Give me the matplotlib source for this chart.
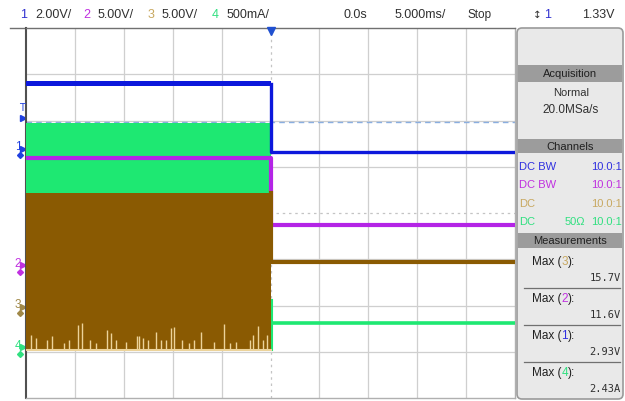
import matplotlib
matplotlib.use("Agg")
import matplotlib.pyplot as plt
from matplotlib.patches import FancyBboxPatch, Rectangle
import matplotlib.transforms as mtransforms

# ---------------- data (time in ms, amplitude in divisions) ----------------
t_range = (-25.0, 25.0)
y_range = (-4.0, 4.0)
t_edge = 0.0
ch1_levels = [2.79, 1.31]          # before / after the edge
ch1_band = [2.74, 2.85]
ch2_levels = [1.18, -0.27]
ch3_band = [-2.96, 0.44]
ch3_after = -1.06
ch4_band = [-2.96, 1.95]
ch4_after = -2.38
trig_level = 1.97
ground_marks = {"1": 1.39, "2": -1.13, "3": -2.03, "4": -2.90}
trig_mark = 2.06
spike_t = [-24.5, -24.0, -22.9, -22.3, -21.1, -20.6, -19.7, -19.3, -18.5, -17.8,
           -16.7, -16.3, -15.8, -14.8, -13.7, -13.4, -13.0, -12.5, -11.7, -11.2,
           -10.7, -10.2, -9.9, -9.1, -8.3, -7.8, -7.1, -5.8, -4.8, -4.1,
           -3.5, -2.1, -1.8, -1.3, -0.8, -0.4]
spike_top = [-2.64, -2.70, -2.75, -2.67, -2.81, -2.75, -2.42, -2.37, -2.75, -2.81,
             -2.53, -2.59, -2.75, -2.78, -2.67, -2.67, -2.70, -2.75, -2.57, -2.75,
             -2.75, -2.49, -2.46, -2.75, -2.81, -2.75, -2.57, -2.78, -2.40, -2.81,
             -2.78, -2.75, -2.64, -2.44, -2.75, -2.64]
spike_base = -2.96

header_items = [("1", "#3030d0"), ("2.00V/", "#303030"), ("2", "#c030e0"), ("5.00V/", "#303030"),
                ("3", "#c8a860"), ("5.00V/", "#303030"), ("4", "#30e080"), ("500mA/", "#303030")]
header_x = [20, 35, 83, 98, 148, 162, 212, 227]
channel_rows = [("DC BW", "", "10.0:1", "#3030e0"), ("DC BW", "", "10.0:1", "#c030e0"),
                ("DC", "", "10.0:1", "#c8a860"), ("DC", "50\u03a9", "10.0:1", "#30e080")]
meas_labels = ["3", "2", "1", "4"]
meas_values = ["15.7V", "11.6V", "2.93V", "2.43A"]
meas_colors = ["#c8a860", "#c030e0", "#3030e0", "#30e080"]

BLUE = "#0c18dc"
MAG = "#b424e6"
BROWN = "#8a5a02"
GREEN = "#1ee872"
BEIGE = "#ecd39a"
NARROW = ["Liberation Sans Narrow", "Liberation Sans", "DejaVu Sans"]
REG = ["Liberation Sans", "DejaVu Sans"]

W, H = 625, 401
fig = plt.figure(figsize=(W / 100, H / 100), dpi=100)
fig.patch.set_facecolor("white")

ov = fig.add_axes([0, 0, 1, 1], zorder=0)
ov.set_xlim(0, W)
ov.set_ylim(H, 0)
ov.axis("off")

gx0, gx1, gy0, gy1 = 26, 515, 28, 398
ax = fig.add_axes([gx0 / W, 1 - gy1 / H, (gx1 - gx0) / W, (gy1 - gy0) / H], zorder=2)
ax.set_xlim(*t_range)
ax.set_ylim(*y_range)
ax.set_xticks([])
ax.set_yticks([])
for s in ax.spines.values():
    s.set_color("#b0b0b0")
    s.set_linewidth(1.0)
ax.spines["left"].set_color("#505050")
ax.spines["left"].set_linewidth(1.5)
ax.spines["top"].set_color("#707070")

for xv in range(-20, 25, 5):
    if xv == 0:
        ax.axvline(xv, color="#c4c4c4", lw=0.9, ls=(0, (2, 3)), zorder=1)
    else:
        ax.axvline(xv, color="#cfcfcf", lw=0.9, zorder=1)
for yv in range(-3, 4):
    if yv == 0:
        ax.axhline(yv, color="#c4c4c4", lw=0.9, ls=(0, (2, 3)), zorder=1)
    else:
        ax.axhline(yv, color="#cfcfcf", lw=0.9, zorder=1)

ax.axhline(trig_level, color="#8aaee0", lw=1.0, ls=(0, (4, 3)), zorder=1.5)

# channel 4 (green)
ax.fill_between([t_range[0], t_edge], ch4_band[0], ch4_band[1], color=GREEN, lw=0, zorder=3)
ax.plot([t_edge + 0.15, t_edge + 0.15], [ch4_band[0], ch4_after + 0.5], color=GREEN, lw=1.5, zorder=3)
ax.plot([t_edge + 0.15, t_range[1]], [ch4_after, ch4_after], color=GREEN, lw=2.6, zorder=3)

# channel 2 (magenta)
ax.plot([t_range[0], t_edge, t_edge, t_range[1]],
        [ch2_levels[0], ch2_levels[0], ch2_levels[1], ch2_levels[1]], color=MAG, lw=3.0, zorder=4)

# channel 3 (brown)
ax.fill_between([t_range[0], t_edge], ch3_band[0], ch3_band[1], color=BROWN, lw=0, zorder=5)
ax.vlines(spike_t, spike_base, spike_top, color=BEIGE, lw=1.0, zorder=5.5)
ax.plot([t_range[0], t_edge], [spike_base, spike_base], color=BEIGE, lw=1.5, zorder=5.5)
ax.plot([t_edge, t_edge, t_range[1]], [ch3_band[1], ch3_after, ch3_after], color=BROWN, lw=3.0, zorder=5)

# channel 1 (blue)
ax.fill_between([t_range[0], t_edge], ch1_band[0], ch1_band[1], color=BLUE, lw=0, zorder=6)
ax.plot([t_edge, t_edge, t_range[1]], [ch1_levels[0], ch1_levels[1], ch1_levels[1]],
        color=BLUE, lw=2.4, zorder=6)

ax.plot([t_edge], [y_range[1] - 0.06], marker="v", color="#2050d0", ms=6, clip_on=False, zorder=8)

blend = mtransforms.blended_transform_factory(ov.transData, ax.transData)
gcol = {"1": "#2040e0", "2": "#c030e0", "3": "#a08848", "4": "#30e080"}
for k, yv in ground_marks.items():
    ax.text(18, yv + 0.03, k, transform=blend, color=gcol[k], fontsize=8.5, ha="center",
            va="center", clip_on=False, family=NARROW)
    ax.plot([23], [yv], marker=">", ms=4, color=gcol[k], transform=blend, clip_on=False)
    ax.plot([19.5], [yv - 0.14], marker="D", ms=3, color=gcol[k], transform=blend, clip_on=False)
ax.text(22, trig_mark + 0.2, "T", transform=blend, color="#2040e0", fontsize=7, ha="center",
        va="center", clip_on=False)
ax.plot([23], [trig_mark], marker=">", ms=4, color="#2040e0", transform=blend, clip_on=False)

# header
hf = dict(fontsize=9, va="center", family=NARROW)
for (txt, col), xx in zip(header_items, header_x):
    ov.text(xx, 15, txt, color=col, **hf)
ov.text(343, 15, "0.0s", color="#303030", **hf)
ov.text(395, 15, "5.000ms/", color="#303030", **hf)
ov.text(468, 15, "Stop", color="#303030", fontsize=8.5, va="center", family=REG)
ov.text(533, 15, "\u2195", color="#303030", fontsize=7.5, va="center")
ov.text(544, 15, "1", color="#3030d0", **hf)
ov.text(615, 15, "1.33V", color="#303030", ha="right", fontsize=9, va="center", family=NARROW)
ov.plot([10, gx0], [gy0, gy0], color="#707070", lw=1)

# right panel
px0, px1 = 517, 623
ov.add_patch(FancyBboxPatch((px0, 28), px1 - px0, 371, boxstyle="round,pad=0,rounding_size=5",
                            fc="#e9e9e9", ec="#9a9a9a", lw=1.2))
bands = [(65, 82, "Acquisition"), (139, 153, "Channels"), (233, 248, "Measurements")]
for y0, y1, txt in bands:
    ov.add_patch(Rectangle((px0 + 1, y0), px1 - px0 - 2, y1 - y0, fc="#9c9c9c", ec="none"))
    ov.text((px0 + px1) / 2, (y0 + y1) / 2 + 0.5, txt, ha="center", va="center", fontsize=8,
            color="#202020", family=REG)
ov.text(571, 93, "Normal", ha="center", va="center", fontsize=8, color="#303030", family=REG)
ov.text(571, 110, "20.0MSa/s", ha="center", va="center", fontsize=8.5, color="#303030",
        family=NARROW)
for i, (a, b, c, col) in enumerate(channel_rows):
    yy = 167 + i * 18.3
    ov.text(519, yy, a, color=col, fontsize=8, va="center", family=NARROW)
    if b:
        ov.text(565, yy, b, color=col, fontsize=8, va="center", family=NARROW)
    ov.text(622, yy, c, color=col, fontsize=8, va="center", ha="right", family=NARROW)
for i in range(4):
    y0 = 262 + i * 37
    lbl = ov.text(532, y0, "Max (", color="#202020", fontsize=8.5, va="center", family=REG)
    num = ov.annotate(meas_labels[i], xy=(1, 0), xycoords=lbl, va="bottom", ha="left",
                      color=meas_colors[i], fontsize=8.5, family=REG)
    ov.annotate("):", xy=(1, 0), xycoords=num, va="bottom", ha="left",
                color="#202020", fontsize=8.5, family=REG)
    ov.text(621, y0 + 16, meas_values[i], color="#303030", fontsize=7.5, va="center", ha="right",
            family="DejaVu Sans Mono")
    if i < 3:
        ov.plot([524, 620], [y0 + 26, y0 + 26], color="#707070", lw=0.9)

fig.savefig("out.png", dpi=100, facecolor="white")
